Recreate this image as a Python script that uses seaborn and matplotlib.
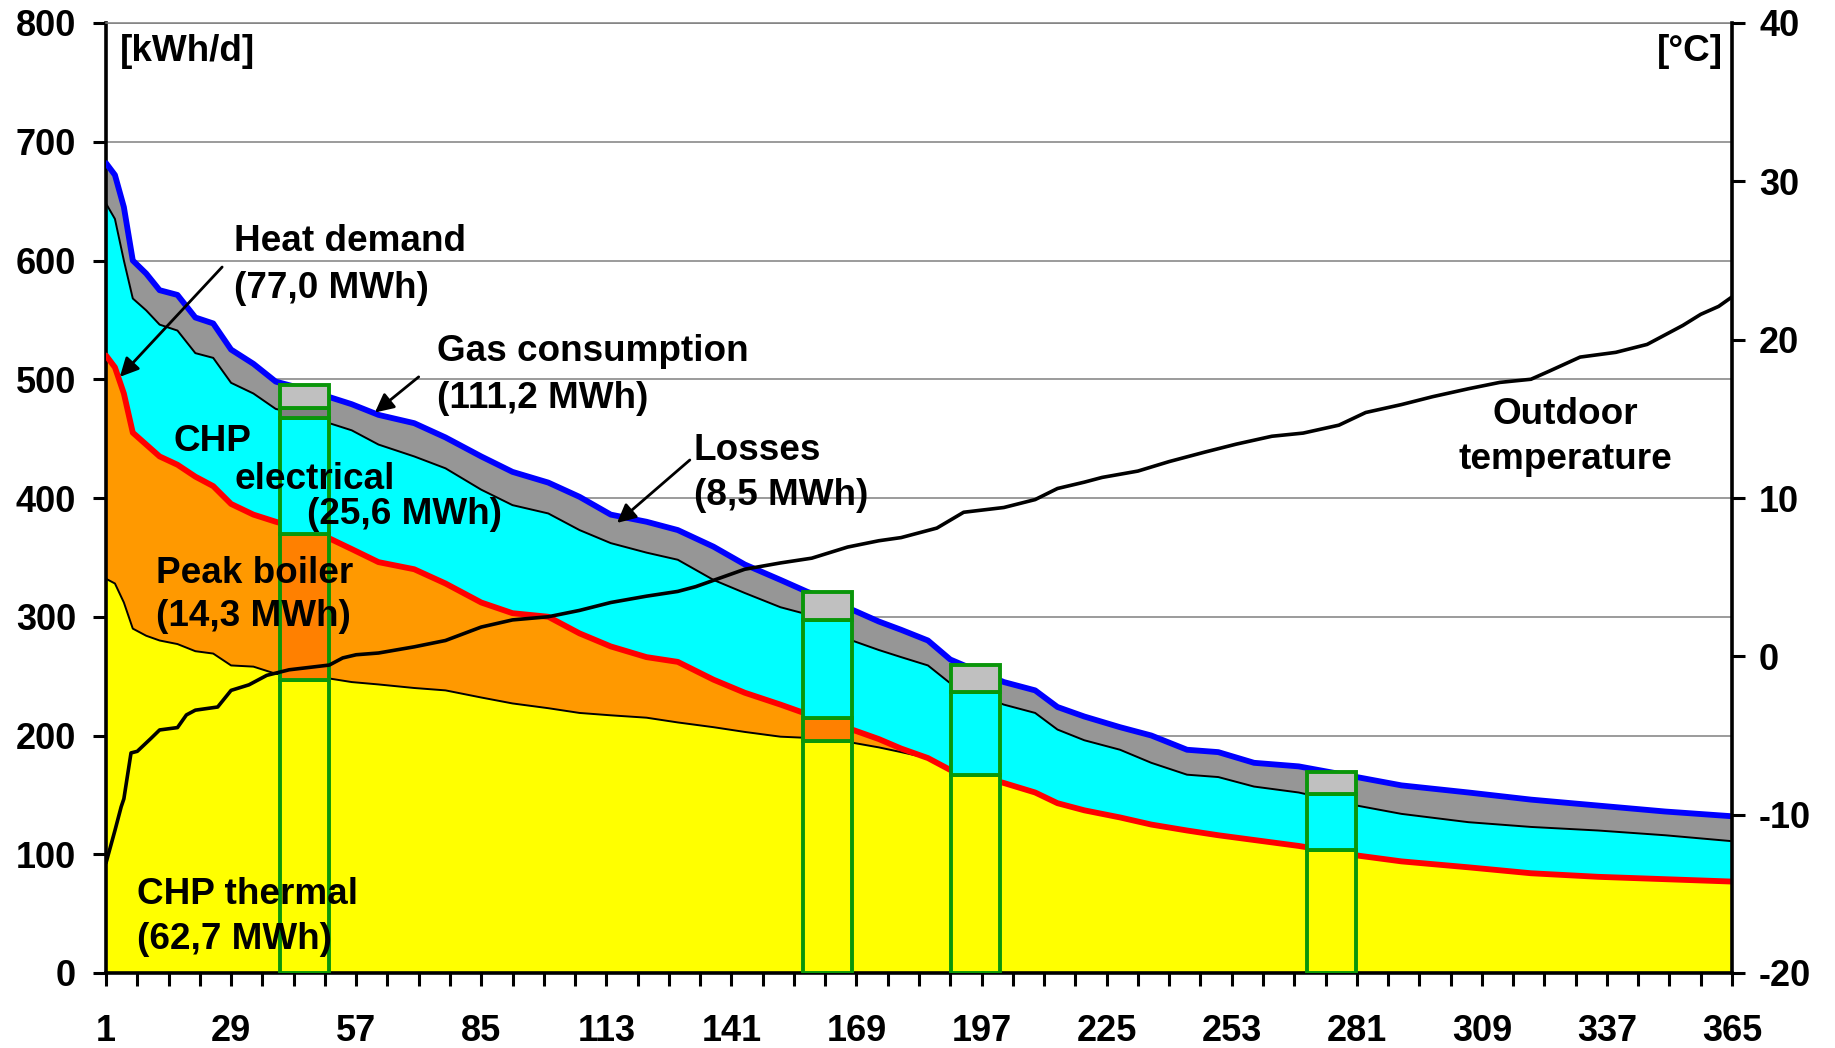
import numpy as np
import pandas as pd
import matplotlib
matplotlib.use("Agg")
import matplotlib.pyplot as plt
import seaborn as sns

# ---------------- data ----------------
days = [1, 3, 5, 7, 10, 13, 17, 21, 25, 29, 34, 39, 45, 51, 56, 62, 70, 77, 85, 92,
        100, 107, 114, 122, 129, 137, 144, 152, 158, 163, 168, 174, 179, 185, 190, 195, 202, 209, 214, 220,
        228, 235, 243, 250, 258, 268, 281, 291, 306, 320, 335, 350, 365]

gas_consumption = [682, 672, 645, 600, 589, 575, 571, 552, 547, 525, 513, 498, 492, 485, 479, 470, 463, 451, 435, 422,
                   413, 401, 386, 380, 373, 359, 344, 331, 321, 314, 306, 296, 289, 280, 264, 256, 245, 238, 224, 216,
                   207, 200, 188, 186, 177, 174, 165, 158, 152, 146, 141, 136, 132]

gas_minus_losses = [648, 635, 600, 568, 558, 546, 541, 522, 518, 497, 488, 475, 470, 463, 457, 445, 435, 425, 407, 394,
                    387, 373, 362, 354, 348, 331, 320, 308, 302, 292, 280, 272, 266, 259, 244, 236, 226, 219, 205, 196,
                    188, 177, 167, 165, 157, 152, 141, 134, 127, 123, 120, 116, 111]

heat_demand = [520, 510, 488, 455, 445, 435, 428, 418, 410, 395, 386, 380, 374, 366, 357, 346, 340, 328, 312, 303,
               300, 286, 275, 266, 262, 247, 236, 226, 218, 212, 205, 197, 189, 181, 171, 167, 160, 152, 143, 137,
               131, 125, 120, 116, 112, 107, 99, 94, 89, 84, 81, 79, 77]

chp_thermal = [332, 328, 312, 290, 284, 280, 277, 271, 269, 259, 258, 252, 249, 248, 245, 243, 240, 238, 232, 227,
               223, 219, 217, 215, 211, 207, 203, 199, 198, 196, 194, 190, 186, 181, 171, 167, 160, 152, 143, 137,
               131, 125, 120, 116, 112, 107, 99, 94, 89, 84, 81, 79, 77]

temp_days = [1, 3, 4.4, 5, 6.6, 8, 11, 13, 17, 19, 21, 26, 29, 33, 37, 42, 51, 54, 57, 62,
             70, 77, 85, 92, 100, 107, 114, 122, 129, 133, 137, 144, 152, 159, 167, 174, 179, 187, 193, 202,
             209, 214, 220, 224, 232, 239, 247, 254, 262, 269, 277, 283, 291, 298, 306, 313, 320, 324, 331, 339,
             346, 350, 354, 358, 362, 365]
outdoor_temp = [-13.05, -11.0, -9.5, -9.0, -6.1, -6.0, -5.2, -4.65, -4.5, -3.7, -3.4, -3.2, -2.15, -1.8, -1.2, -0.85,
                -0.55, -0.1, 0.1, 0.21, 0.6, 1.0, 1.85, 2.3, 2.5, 2.9, 3.4, 3.8, 4.1, 4.4, 4.8, 5.5, 5.9, 6.2, 6.9,
                7.3, 7.5, 8.1, 9.1, 9.4, 9.9, 10.6, 11.0, 11.3, 11.7, 12.3, 12.9, 13.4, 13.9, 14.1, 14.6, 15.4, 15.9,
                16.4, 16.9, 17.3, 17.5, 18.0, 18.9, 19.2, 19.7, 20.3, 20.9, 21.6, 22.1, 22.7]

# highlighted days (boxes)
box_days = [45.4, 162.5, 195.7, 275.3]
box_thermal = [247, 195, 167, 104]
box_peak = [123, 20, 0, 0]
box_elec = [97, 82, 70, 47]
box_loss_dark = [9, 0, 0, 0]
box_loss_light = [19, 24, 22, 18]

x_major = list(range(1, 366, 28))
x_minor = list(range(1, 366, 7))
y_left_ticks = list(range(0, 801, 100))
y_right_ticks = list(range(-20, 41, 10))

# ---------------- style ----------------
sns.set_theme(style="white")
plt.rcParams['font.family'] = ['Liberation Sans', 'DejaVu Sans']
plt.rcParams['font.weight'] = 'bold'
plt.rcParams['text.color'] = 'black'
plt.rcParams['axes.labelcolor'] = 'black'
plt.rcParams['xtick.color'] = 'black'
plt.rcParams['ytick.color'] = 'black'
plt.rcParams['axes.unicode_minus'] = False

YELLOW = "#FFFF00"
ORANGE = "#FF9900"
ORANGE_D = "#FF8000"
CYAN = "#00FFFF"
GRAY = "#969696"
GRAY_L = "#C0C0C0"
GRAY_D = "#808080"
GREEN = "#0A960A"
FS = 26
FSA = 26.6

fig = plt.figure(figsize=(18.35, 10.48), dpi=100)
ax = fig.add_axes([106 / 1835, 1 - 973 / 1048, (1732 - 106) / 1835, (973 - 23) / 1048])

df = pd.DataFrame({"day": days, "gas": gas_consumption, "elec_top": gas_minus_losses,
                   "heat": heat_demand, "chp": chp_thermal})
tdf = pd.DataFrame({"day": temp_days, "temp": outdoor_temp})

# stacked areas
ax.fill_between(df["day"], 0, df["chp"], color=YELLOW, lw=0, zorder=2)
ax.fill_between(df["day"], df["chp"], df["heat"], color=ORANGE, lw=0, zorder=2)
ax.fill_between(df["day"], df["heat"], df["elec_top"], color=CYAN, lw=0, zorder=2)
ax.fill_between(df["day"], df["elec_top"], df["gas"], color=GRAY, lw=0, zorder=2)

# boundary lines
sns.lineplot(data=df, x="day", y="chp", ax=ax, color="black", lw=1.4, sort=False, estimator=None, zorder=3)
sns.lineplot(data=df, x="day", y="elec_top", ax=ax, color="black", lw=1.4, sort=False, estimator=None, zorder=3)
sns.lineplot(data=df, x="day", y="heat", ax=ax, color="#FF0000", lw=4.2, sort=False, estimator=None, zorder=4)
sns.lineplot(data=df, x="day", y="gas", ax=ax, color="#0000FF", lw=4.2, sort=False, estimator=None, zorder=4)

# highlighted boxes
segments = [(box_thermal, YELLOW), (box_peak, ORANGE_D), (box_elec, CYAN),
            (box_loss_dark, GRAY_D), (box_loss_light, GRAY_L)]
bottom = np.zeros(len(box_days))
for vals, col in segments:
    vals = np.array(vals, dtype=float)
    for i in range(len(box_days)):
        if vals[i] > 0:
            ax.bar(box_days[i], vals[i], bottom=bottom[i], width=11, color=col,
                   edgecolor=GREEN, linewidth=2.8, zorder=6)
    bottom += vals

ax.set_xlim(1, 365)
ax.set_ylim(0, 800)
ax.set_xticks(x_major)
ax.set_xticks(x_minor, minor=True)
ax.set_yticks(y_left_ticks)
ax.set_xlabel("")
ax.set_ylabel("")
ax.yaxis.grid(True, color="#808080", lw=1.1, zorder=0)
ax.set_axisbelow(True)
ax.tick_params(axis="x", which="both", direction="out", length=9.5, width=2.2, color="black",
               labelsize=FS, pad=20, bottom=True, labelcolor="black")
ax.tick_params(axis="y", which="both", direction="out", length=9.5, width=2.2, color="black",
               labelsize=FS, pad=12, left=True, labelcolor="black")
for s in ["left", "bottom"]:
    ax.spines[s].set_linewidth(2.6)
    ax.spines[s].set_color("black")
ax.spines["right"].set_visible(False)
ax.spines["top"].set_color("#808080")
ax.spines["top"].set_linewidth(1.1)
for lab in ax.get_xticklabels() + ax.get_yticklabels():
    lab.set_fontweight("bold")

# temperature axis
ax2 = ax.twinx()
sns.lineplot(data=tdf, x="day", y="temp", ax=ax2, color="black", lw=2.6, sort=False, estimator=None)
ax2.set_ylim(-20, 40)
ax2.set_yticks(y_right_ticks)
ax2.set_xlim(1, 365)
ax2.set_ylabel("")
ax2.set_xlabel("")
ax2.tick_params(axis="y", direction="out", length=9.5, width=2.2, color="black", labelsize=FS, pad=10,
                right=True, labelcolor="black")
for s in ["left", "top", "bottom"]:
    ax2.spines[s].set_visible(False)
ax2.spines["right"].set_linewidth(2.6)
ax2.spines["right"].set_color("black")
for lab in ax2.get_yticklabels():
    lab.set_fontweight("bold")

# unit labels
ax2.text(0.0086, 0.97, "[kWh/d]", transform=ax.transAxes, fontsize=FSA, fontweight="bold",
         ha="left", va="center", color="black")
ax2.text(0.9945, 0.97, "[°C]", transform=ax.transAxes, fontsize=FSA, fontweight="bold", ha="right",
         va="center", color="black")

# annotations
def lab(x, y, s, ha="left"):
    ax2.text(x, y, s, transform=ax.transData, fontsize=FSA, fontweight="bold", ha=ha, va="center",
             color="black", zorder=10)

lab(29.7, 615.6, "Heat demand")
lab(29.7, 576.8, "(77,0 MWh)")
lab(75.1, 523, "Gas consumption")
lab(75.1, 484.2, "(111,2 MWh)")
lab(16.0, 447.2, "CHP")
lab(29.7, 415.2, "electrical")
lab(46.0, 385.7, "(25,6 MWh)")
lab(132.6, 439.6, "Losses")
lab(132.6, 402.5, "(8,5 MWh)")
lab(12.2, 336.8, "Peak boiler")
lab(12.2, 299.8, "(14,3 MWh)")
lab(7.9, 66.5, "CHP thermal")
lab(7.9, 28.6, "(62,7 MWh)")
lab(327.6, 469.9, "Outdoor", ha="center")
lab(327.6, 432.8, "temperature", ha="center")

arrow = dict(arrowstyle="-|>", color="black", lw=2, mutation_scale=28, shrinkA=0, shrinkB=0)
ax2.annotate("", xy=(4.1, 502), xytext=(27, 594.5), xycoords=ax.transData, textcoords=ax.transData,
             arrowprops=arrow, zorder=10)
ax2.annotate("", xy=(61.2, 472), xytext=(71, 502), xycoords=ax.transData, textcoords=ax.transData,
             arrowprops=arrow, zorder=10)
ax2.annotate("", xy=(115.4, 379), xytext=(131.7, 432), xycoords=ax.transData, textcoords=ax.transData,
             arrowprops=arrow, zorder=10)

fig.savefig("out.png", dpi=100)
